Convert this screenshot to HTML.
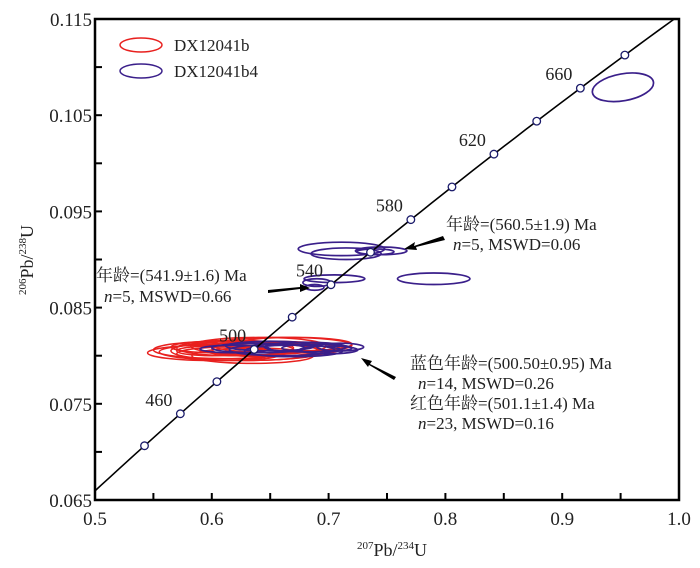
<!DOCTYPE html>
<html><head><meta charset="utf-8"><style>
html,body{margin:0;padding:0;background:#fff;width:700px;height:568px;overflow:hidden;position:relative}
svg{display:block;position:absolute;left:0;top:0}
svg text{font-family:"Liberation Serif","Noto Serif CJK SC",serif;fill:#222}
</style></head><body>
<svg id="c" width="700" height="568"></svg>
<script>
const xTicks=[0.5,0.6,0.7,0.8,0.9,1.0];
const xTickLabels=["0.5","0.6","0.7","0.8","0.9","1.0"];
const yTicks=[0.065,0.075,0.085,0.095,0.105,0.115];
const yTickLabels=["0.065","0.075","0.085","0.095","0.105","0.115"];
const concAges=[440,460,480,500,520,540,560,580,600,620,640,660,680];
const concLabels=[460,500,540,580,620,660];
const redX=[0.600,0.610,0.620,0.630,0.640,0.615,0.650,0.660,0.605,0.625,0.670,0.635,0.645,0.600];
const redY=[0.0803,0.0806,0.0808,0.0805,0.0810,0.0802,0.0807,0.0811,0.0809,0.0804,0.0812,0.0800,0.0806,0.0805];
const redRx=[0.055,0.060,0.050,0.065,0.058,0.045,0.060,0.060,0.040,0.070,0.050,0.052,0.045,0.030];
const redRy=[0.0008,0.0009,0.0008,0.0010,0.0009,0.0007,0.0008,0.0008,0.0006,0.0009,0.0007,0.0008,0.0007,0.0005];
const blueX=[0.640,0.660,0.680,0.620,0.650,0.670,0.690,0.700,0.710,0.711,0.715,0.745,0.740,0.790,0.690,0.705,0.688,0.952];
const blueY=[0.0808,0.0806,0.0809,0.0807,0.0810,0.0805,0.0808,0.0806,0.0809,0.0911,0.0906,0.0909,0.0908,0.0880,0.0876,0.0880,0.0871,0.1079];
const blueRx=[0.040,0.045,0.035,0.030,0.038,0.042,0.030,0.025,0.020,0.037,0.030,0.022,0.016,0.031,0.012,0.026,0.008,0.0265];
const blueRy=[0.0005,0.0006,0.0005,0.0004,0.0005,0.0006,0.0004,0.0004,0.0004,0.0007,0.0006,0.0004,0.0003,0.0006,0.0004,0.0004,0.0003,0.0014];
const blueTilt=[0,0,0,0,0,0,0,0,0,0,0,0,0,0,0,0,0,-10];

const NS="http://www.w3.org/2000/svg",svg=document.getElementById('c');
const L=95,R=679,T=19,B=500;
const X=v=>L+(v-0.5)/0.5*(R-L);
const Y=v=>B-(v-0.065)/0.05*(B-T);
const ppx=(R-L)/0.5, ppy=(B-T)/0.05;
function el(t,a,p){const e=document.createElementNS(NS,t);for(const k in a)e.setAttribute(k,a[k]);(p||svg).appendChild(e);return e;}
const l238=1.55125e-10,l235=9.8485e-10;
const cx=t=>Math.exp(l235*t*1e6)-1, cy=t=>Math.exp(l238*t*1e6)-1;

const defs=el('defs',{});const cp=el('clipPath',{id:'pc'},defs);el('rect',{x:L,y:T,width:R-L,height:B-T},cp);
const g=el('g',{'clip-path':'url(#pc)'});


for(let i=0;i<redX.length;i++){
 const e=el('ellipse',{cx:X(redX[i]),cy:Y(redY[i]),rx:redRx[i]*ppx,ry:redRy[i]*ppy,fill:'none',stroke:'#e8201e','stroke-width':1.5},g);
 
 
}
for(let i=0;i<blueX.length;i++){
 const px=X(blueX[i]),py=Y(blueY[i]);
 const e=el('ellipse',{cx:px,cy:py,rx:blueRx[i]*ppx,ry:blueRy[i]*ppy,fill:'none',stroke:'#3a1f8a','stroke-width':1.7,transform:`rotate(${blueTilt[i]} ${px} ${py})`},g);
 
 
}
let pts=[];for(let t=300;t<=780;t+=5)pts.push(X(cx(t)).toFixed(1)+','+Y(cy(t)).toFixed(1));
const cl=el('polyline',{points:pts.join(' '),fill:'none',stroke:'#000','stroke-width':1.6},g);


concAges.forEach(a=>{
 const c=el('circle',{cx:X(cx(a)),cy:Y(cy(a)),r:3.8,fill:'#fff',stroke:'#1a1a6a','stroke-width':1.3},g);
 
 
});
concLabels.forEach(a=>{
 const t=el('text',{x:X(cx(a))-8,y:Y(cy(a))-8,'font-size':18,'text-anchor':'end'});t.textContent=a;
 
 
});
const f=el('rect',{x:L,y:T,width:R-L,height:B-T,fill:'none',stroke:'#000','stroke-width':2.5});

xTicks.forEach((v,i)=>{
 el('line',{x1:X(v),x2:X(v),y1:B,y2:B-7,stroke:'#000','stroke-width':2});
 if(i<xTicks.length-1)el('line',{x1:X(v+0.05),x2:X(v+0.05),y1:B,y2:B-7,stroke:'#000','stroke-width':2});
 const t=el('text',{x:X(v),y:B+25,'font-size':19,'text-anchor':'middle'});t.textContent=xTickLabels[i];
 
 
});
yTicks.forEach((v,i)=>{
 el('line',{x1:L,x2:L+7,y1:Y(v),y2:Y(v),stroke:'#000','stroke-width':2});
 if(i<yTicks.length-1)el('line',{x1:L,x2:L+7,y1:Y(v+0.005),y2:Y(v+0.005),stroke:'#000','stroke-width':2});
 const t=el('text',{x:L-3,y:Y(v)+7,'font-size':19,'text-anchor':'end'});t.textContent=yTickLabels[i];
 
 
});
</script>
<svg width="700" height="568">
<g font-family="Liberation Serif, Noto Serif CJK SC, serif" fill="#222">
<text x="392" y="556" font-size="18" text-anchor="middle"><tspan font-size="11" dy="-7">207</tspan><tspan dy="7">Pb/</tspan><tspan font-size="11" dy="-7">234</tspan><tspan dy="7">U</tspan></text>
<text transform="translate(33,260) rotate(-90)" font-size="18" text-anchor="middle"><tspan font-size="11" dy="-7">206</tspan><tspan dy="7">Pb/</tspan><tspan font-size="11" dy="-7">238</tspan><tspan dy="7">U</tspan></text>
<g>
<ellipse cx="141" cy="45" rx="21" ry="7" fill="none" stroke="#e8201e" stroke-width="1.5"/>
<text x="174" y="51" font-size="17">DX12041b</text>
<ellipse cx="141" cy="71" rx="21" ry="7" fill="none" stroke="#3a1f8a" stroke-width="1.5"/>
<text x="174" y="77" font-size="17">DX12041b4</text>
</g>
<g font-size="17">
<text x="446" y="230">年龄=(560.5±1.9) Ma</text>
<text x="453" y="250"><tspan font-style="italic">n</tspan>=5, MSWD=0.06</text>
</g>
<g font-size="17">
<text x="96" y="281">年龄=(541.9±1.6) Ma</text>
<text x="104" y="302"><tspan font-style="italic">n</tspan>=5, MSWD=0.66</text>
</g>
<g font-size="17">
<text x="410" y="369">蓝色年龄=(500.50±0.95) Ma</text>
<text x="418" y="389"><tspan font-style="italic">n</tspan>=14, MSWD=0.26</text>
<text x="410" y="409">红色年龄=(501.1±1.4) Ma</text>
<text x="418" y="429"><tspan font-style="italic">n</tspan>=23, MSWD=0.16</text>
</g>
</g>
<g fill="#000">
<path d="M443,236 L414,246 L415,242 L404,249 L417,250 L416,247 L445,240 Z"/>
<path d="M268,290 L300,287 L300,284 L310,288 L300,292 L300,289 L268,293 Z"/>
<path d="M396,377 L370,364 L372,361 L361,358 L368,367 L369,365 L394,380 Z"/>
</g>
</svg>
</body></html>
